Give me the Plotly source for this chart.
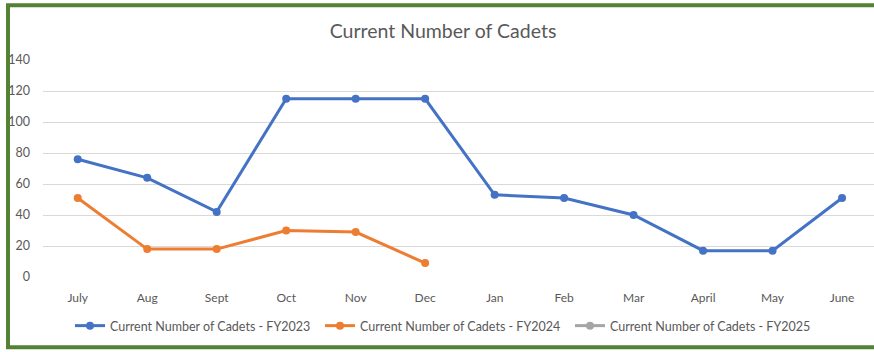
import plotly.graph_objects as go

# Monthly cadet counts by fiscal year (July through June)
months = ["July", "Aug", "Sept", "Oct", "Nov", "Dec",
          "Jan", "Feb", "Mar", "April", "May", "June"]
fy2023 = [76, 64, 42, 115, 115, 115, 53, 51, 40, 17, 17, 51]
fy2024 = [51, 18, 18, 30, 29, 9]
fy2025 = []

y_ticks = [0, 20, 40, 60, 80, 100, 120, 140]

W, H = 874, 352
font_family = "Lato, 'Open Sans', sans-serif"
text_color = "#595959"

series = [
    ("Current Number of Cadets - FY2023", fy2023, "#4472C4"),
    ("Current Number of Cadets - FY2024", fy2024, "#ED7D31"),
    ("Current Number of Cadets - FY2025", fy2025, "#A5A5A5"),
]

fig = go.Figure()
for name, vals, color in series:
    fig.add_trace(go.Scatter(
        x=months[:len(vals)] if vals else [None],
        y=vals if vals else [None],
        name=name,
        mode="lines+markers",
        line=dict(color=color, width=3),
        marker=dict(color=color, size=8),
        showlegend=True,
    ))

# Plot area placement in figure pixels
px_left, px_right = 43, W
px_top, px_bottom = 60, 277.5
pw = px_right - px_left
ph = px_bottom - px_top


def xp(px):
    return (px - px_left) / pw


def yp(py):
    return (px_bottom - py) / ph


fig.update_layout(
    width=W, height=H,
    margin=dict(l=px_left, r=W - px_right, t=px_top, b=H - px_bottom,
                autoexpand=False),
    paper_bgcolor="white",
    plot_bgcolor="white",
    font=dict(family=font_family, color=text_color, size=12),
    title=dict(
        text="Current Number of Cadets",
        xref="container", yref="container",
        x=443 / W, xanchor="center",
        y=1 - 31 / H, yanchor="middle",
        font=dict(size=19.5, color=text_color, family=font_family),
    ),
    xaxis=dict(
        type="category",
        categoryorder="array",
        categoryarray=months,
        range=[-0.5, 11.46],
        showgrid=False,
        showline=False,
        zeroline=False,
        ticks="",
        ticklabelstandoff=12,
        tickfont=dict(size=12, color=text_color),
        fixedrange=True,
    ),
    yaxis=dict(
        range=[0, 140],
        tickvals=y_ticks,
        showgrid=True,
        gridcolor="#D9D9D9",
        gridwidth=1,
        zeroline=False,
        showline=False,
        ticks="",
        ticklabelstandoff=12,
        tickfont=dict(size=12.5, color=text_color),
        fixedrange=True,
    ),
    legend=dict(
        orientation="h",
        xref="container", yref="container",
        x=445 / W, xanchor="center",
        y=1 - 326 / H, yanchor="middle",
        font=dict(size=12.5, color=text_color),
        bgcolor="rgba(0,0,0,0)",
        itemwidth=30,
        entrywidth=205,
    ),
    shapes=[dict(
        type="rect", xref="paper", yref="paper",
        x0=xp(8), x1=xp(W + 10), y0=yp(348), y1=yp(5),
        line=dict(color="#548235", width=4),
        fillcolor="rgba(0,0,0,0)",
        layer="above",
    )],
)

fig.write_html("out.html")
